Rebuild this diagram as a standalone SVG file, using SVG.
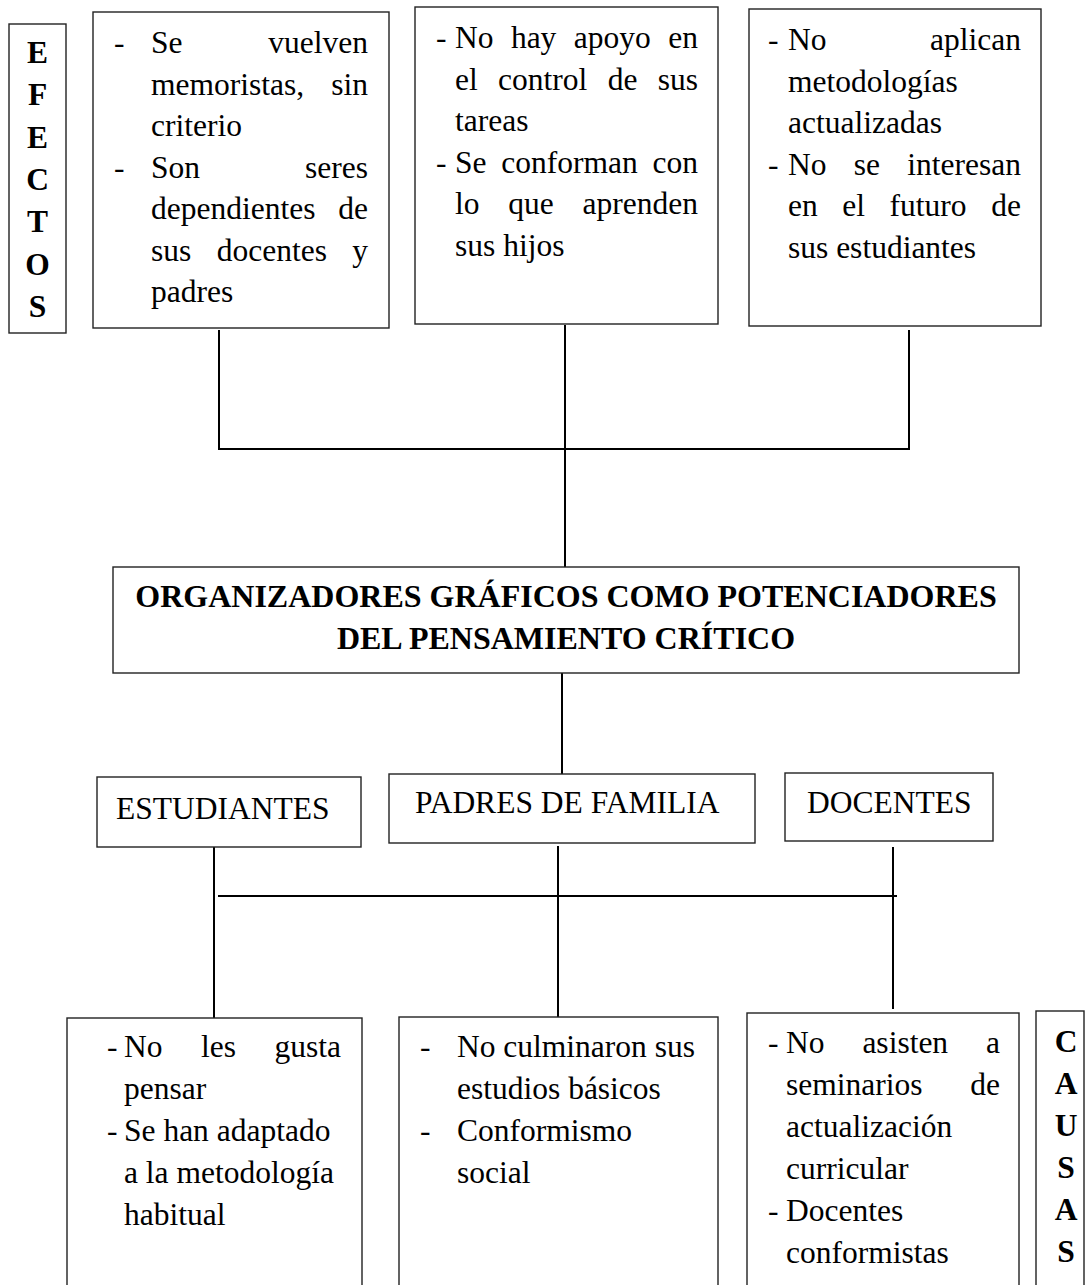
<svg xmlns="http://www.w3.org/2000/svg" width="1091" height="1285" viewBox="0 0 1091 1285">
  <style>
    .box { fill: #ffffff; stroke: #222222; stroke-width: 1.4; }
    .wire { fill: none; stroke: #000000; stroke-width: 2; }
    text { font-family: "Liberation Serif", "Times New Roman", serif; font-size: 31.5px; fill: #000000; }
    .b { font-weight: bold; }
    .e { text-anchor: end; }
    .m { text-anchor: middle; }
  </style>
  <rect width="1091" height="1285" fill="#ffffff"/>

  <!-- connectors -->
  <g id="connectors">
    <!-- effects bus -->
    <line class="wire" x1="219" y1="330" x2="219" y2="449"/>
    <line class="wire" x1="565" y1="325" x2="565" y2="568"/>
    <line class="wire" x1="909" y1="330" x2="909" y2="449"/>
    <line class="wire" x1="218" y1="449" x2="910" y2="449"/>
    <!-- title to actors -->
    <line class="wire" x1="562" y1="673" x2="562" y2="775"/>
    <!-- causes bus -->
    <line class="wire" x1="214" y1="840" x2="214" y2="1018"/>
    <line class="wire" x1="558" y1="846" x2="558" y2="1017"/>
    <line class="wire" x1="893" y1="847" x2="893" y2="1009"/>
    <line class="wire" x1="218" y1="896" x2="897" y2="896"/>
  </g>

  <!-- side label: EFECTOS -->
  <g id="efectos">
    <rect class="box" x="9" y="24" width="57" height="309"/>
    <text class="b m" x="37.5" y="63">E</text>
    <text class="b m" x="37.5" y="105.3">F</text>
    <text class="b m" x="37.5" y="147.6">E</text>
    <text class="b m" x="37.5" y="189.9">C</text>
    <text class="b m" x="37.5" y="232.2">T</text>
    <text class="b m" x="37.5" y="274.5">O</text>
    <text class="b m" x="37.5" y="316.8">S</text>
  </g>

  <!-- effect: students -->
  <g id="efecto-estudiantes">
    <rect class="box" x="93" y="12" width="296" height="316"/>
    <text x="114" y="53">-</text>
    <text x="151" y="53">Se</text>
    <text class="e" x="368" y="53">vuelven</text>
    <text x="151" y="94.5">memoristas,</text>
    <text class="e" x="368" y="94.5">sin</text>
    <text x="151" y="136">criterio</text>
    <text x="114" y="177.5">-</text>
    <text x="151" y="177.5">Son</text>
    <text class="e" x="368" y="177.5">seres</text>
    <text x="151" y="219">dependientes</text>
    <text class="e" x="368" y="219">de</text>
    <text x="151" y="260.5">sus</text>
    <text x="216.7" y="260.5">docentes</text>
    <text class="e" x="368" y="260.5">y</text>
    <text x="151" y="302">padres</text>
  </g>

  <!-- effect: parents -->
  <g id="efecto-padres">
    <rect class="box" x="415" y="7" width="303" height="317"/>
    <text x="436" y="48">-</text>
    <text x="455" y="48">No</text>
    <text x="510.9" y="48">hay</text>
    <text x="573.8" y="48">apoyo</text>
    <text class="e" x="698" y="48">en</text>
    <text x="455" y="89.5">el</text>
    <text x="498.1" y="89.5">control</text>
    <text x="607.7" y="89.5">de</text>
    <text class="e" x="698" y="89.5">sus</text>
    <text x="455" y="131">tareas</text>
    <text x="436" y="172.5">-</text>
    <text x="455" y="172.5">Se</text>
    <text x="501.3" y="172.5">conforman</text>
    <text class="e" x="698" y="172.5">con</text>
    <text x="455" y="214">lo</text>
    <text x="508.3" y="214">que</text>
    <text class="e" x="698" y="214">aprenden</text>
    <text x="455" y="255.5">sus hijos</text>
  </g>

  <!-- effect: teachers -->
  <g id="efecto-docentes">
    <rect class="box" x="749" y="9" width="292" height="317"/>
    <text x="768" y="50">-</text>
    <text x="788" y="50">No</text>
    <text class="e" x="1021" y="50">aplican</text>
    <text x="788" y="91.5">metodologías</text>
    <text x="788" y="133">actualizadas</text>
    <text x="768" y="174.5">-</text>
    <text x="788" y="174.5">No</text>
    <text x="853.8" y="174.5">se</text>
    <text class="e" x="1021" y="174.5">interesan</text>
    <text x="788" y="216">en</text>
    <text x="842.3" y="216">el</text>
    <text x="889.6" y="216">futuro</text>
    <text class="e" x="1021" y="216">de</text>
    <text x="788" y="257.5">sus estudiantes</text>
  </g>

  <!-- central problem -->
  <g id="problema">
    <rect class="box" x="113" y="567" width="906" height="106"/>
    <text class="b m" x="566" y="607" style="font-size:32px">ORGANIZADORES GRÁFICOS COMO POTENCIADORES</text>
    <text class="b m" x="566" y="649" style="font-size:32px">DEL PENSAMIENTO CRÍTICO</text>
  </g>

  <!-- actors -->
  <g id="estudiantes">
    <rect class="box" x="97" y="777" width="264" height="70"/>
    <text x="116" y="819">ESTUDIANTES</text>
  </g>
  <g id="padres">
    <rect class="box" x="389" y="774" width="366" height="69"/>
    <text x="415" y="813">PADRES DE FAMILIA</text>
  </g>
  <g id="docentes">
    <rect class="box" x="785" y="773" width="208" height="68"/>
    <text x="807" y="813">DOCENTES</text>
  </g>

  <!-- cause: students -->
  <g id="causa-estudiantes">
    <rect class="box" x="67" y="1018" width="295" height="300"/>
    <text x="107" y="1057">-</text>
    <text x="124" y="1057">No</text>
    <text x="201" y="1057">les</text>
    <text class="e" x="341" y="1057">gusta</text>
    <text x="124" y="1099">pensar</text>
    <text x="107" y="1141">-</text>
    <text x="124" y="1141">Se han adaptado</text>
    <text x="124" y="1183">a la metodología</text>
    <text x="124" y="1225">habitual</text>
  </g>

  <!-- cause: parents -->
  <g id="causa-padres">
    <rect class="box" x="399" y="1017" width="319" height="300"/>
    <text x="420" y="1057">-</text>
    <text x="457" y="1057">No culminaron sus</text>
    <text x="457" y="1099">estudios básicos</text>
    <text x="420" y="1141">-</text>
    <text x="457" y="1141">Conformismo</text>
    <text x="457" y="1183">social</text>
  </g>

  <!-- cause: teachers -->
  <g id="causa-docentes">
    <rect class="box" x="747" y="1013" width="272" height="300"/>
    <text x="768" y="1053">-</text>
    <text x="786" y="1053">No</text>
    <text x="862.4" y="1053">asisten</text>
    <text class="e" x="1000" y="1053">a</text>
    <text x="786" y="1095">seminarios</text>
    <text class="e" x="1000" y="1095">de</text>
    <text x="786" y="1137">actualización</text>
    <text x="786" y="1179">curricular</text>
    <text x="768" y="1221">-</text>
    <text x="786" y="1221">Docentes</text>
    <text x="786" y="1263">conformistas</text>
  </g>

  <!-- side label: CAUSAS -->
  <g id="causas">
    <rect class="box" x="1036" y="1011" width="48" height="300"/>
    <text class="b m" x="1066" y="1052">C</text>
    <text class="b m" x="1066" y="1094">A</text>
    <text class="b m" x="1066" y="1136">U</text>
    <text class="b m" x="1066" y="1178">S</text>
    <text class="b m" x="1066" y="1220">A</text>
    <text class="b m" x="1066" y="1262">S</text>
  </g>
</svg>
